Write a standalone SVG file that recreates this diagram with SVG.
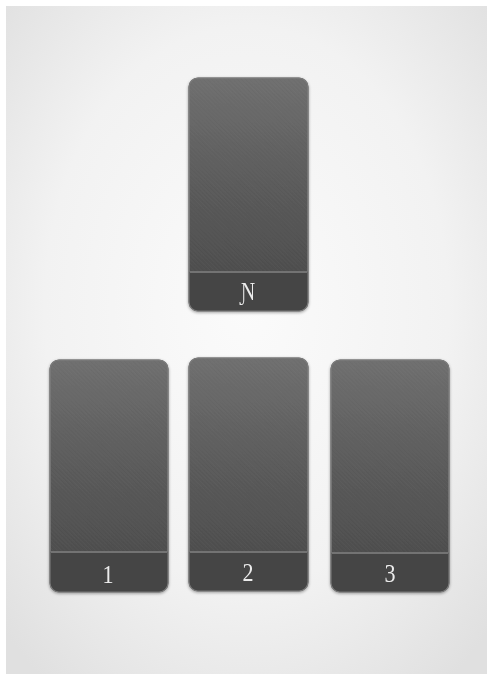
<svg xmlns="http://www.w3.org/2000/svg" width="487" height="674" viewBox="0 0 487 674">
<defs>
  <radialGradient id="bg" cx="50%" cy="45%" r="70%">
    <stop offset="0" stop-color="#fbfbfb"/>
    <stop offset="0.6" stop-color="#f2f2f2"/>
    <stop offset="1" stop-color="#e0e0e0"/>
  </radialGradient>
  <linearGradient id="cardFill" x1="0" y1="0" x2="0" y2="1">
    <stop offset="0" stop-color="#6e6e6e"/>
    <stop offset="0.45" stop-color="#5a5a5a"/>
    <stop offset="1" stop-color="#474747"/>
  </linearGradient>
  <pattern id="tex" width="3" height="3" patternUnits="userSpaceOnUse" patternTransform="rotate(45)">
    <rect width="3" height="1.5" fill="#ffffff" opacity="0.025"/>
  </pattern>
  <filter id="sh" x="-10%" y="-10%" width="120%" height="120%">
    <feGaussianBlur in="SourceAlpha" stdDeviation="1.5"/>
    <feOffset dy="1"/>
    <feComponentTransfer><feFuncA type="linear" slope="0.35"/></feComponentTransfer>
    <feMerge><feMergeNode/><feMergeNode in="SourceGraphic"/></feMerge>
  </filter>
  <clipPath id="c0"><rect x="189" y="78" width="119" height="233" rx="9"/></clipPath>
  <clipPath id="c1"><rect x="50" y="360" width="118" height="232" rx="9"/></clipPath>
  <clipPath id="c2"><rect x="189" y="358" width="119" height="233" rx="9"/></clipPath>
  <clipPath id="c3"><rect x="331" y="360" width="118" height="232" rx="9"/></clipPath>
</defs>
<style>
  .card{fill:url(#cardFill);stroke:#7a7a7a;stroke-width:1.2}
  .tex{fill:url(#tex)}
  .band{fill:#444444}
  .div{stroke:#737373;stroke-width:2}
  .edge{fill:none;stroke:#7a7a7a;stroke-width:1.2}
  .lbl{font-family:"Liberation Serif","DejaVu Serif",serif;font-size:26px;fill:#ececec;text-anchor:middle}
</style>
<rect x="0" y="0" width="487" height="674" fill="#ffffff"/>
<rect x="6" y="6" width="481" height="668" fill="url(#bg)"/>

<g id="card-N" filter="url(#sh)">
  <rect class="card" x="189" y="78" width="119" height="233" rx="9"/>
  <rect class="tex" x="189" y="78" width="119" height="194"/>
  <rect class="band" x="189" y="272" width="119" height="39" clip-path="url(#c0)"/>
  <line class="div" x1="190" y1="272" x2="307" y2="272"/>
  <rect class="edge" x="189" y="78" width="119" height="233" rx="9"/>
  <text class="lbl" transform="translate(248,300) scale(0.75,1)">Ɲ</text>
</g>

<g id="card-1" filter="url(#sh)">
  <rect class="card" x="50" y="360" width="118" height="232" rx="9"/>
  <rect class="tex" x="50" y="360" width="118" height="192"/>
  <rect class="band" x="50" y="552" width="118" height="40" clip-path="url(#c1)"/>
  <line class="div" x1="51" y1="552" x2="167" y2="552"/>
  <rect class="edge" x="50" y="360" width="118" height="232" rx="9"/>
  <text class="lbl" transform="translate(108,583) scale(0.85,1)">1</text>
</g>

<g id="card-2" filter="url(#sh)">
  <rect class="card" x="189" y="358" width="119" height="233" rx="9"/>
  <rect class="tex" x="189" y="358" width="119" height="194"/>
  <rect class="band" x="189" y="552" width="119" height="39" clip-path="url(#c2)"/>
  <line class="div" x1="190" y1="552" x2="307" y2="552"/>
  <rect class="edge" x="189" y="358" width="119" height="233" rx="9"/>
  <text class="lbl" transform="translate(248,581) scale(0.85,1)">2</text>
</g>

<g id="card-3" filter="url(#sh)">
  <rect class="card" x="331" y="360" width="118" height="232" rx="9"/>
  <rect class="tex" x="331" y="360" width="118" height="193"/>
  <rect class="band" x="331" y="553" width="118" height="39" clip-path="url(#c3)"/>
  <line class="div" x1="332" y1="553" x2="448" y2="553"/>
  <rect class="edge" x="331" y="360" width="118" height="232" rx="9"/>
  <text class="lbl" transform="translate(390,582) scale(0.85,1)">3</text>
</g>

<g id="connectors"></g>
</svg>
